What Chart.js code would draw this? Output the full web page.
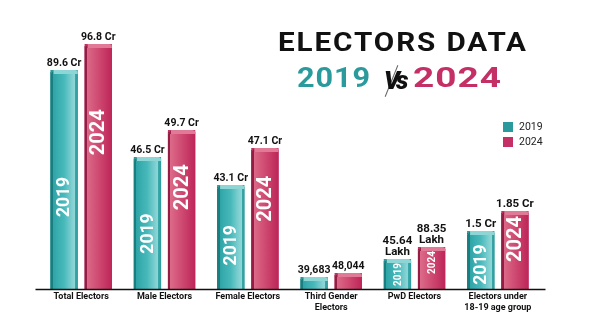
<!DOCTYPE html>
<html>
<head>
<meta charset="utf-8">
<script src="https://cdn.jsdelivr.net/npm/chart.js@4.4.1/dist/chart.umd.min.js"></script>
<style>
  html, body { margin: 0; padding: 0; background: #ffffff; }
  #wrap { position: relative; width: 600px; height: 326px; overflow: hidden; background: #fff; }
  #c { position: absolute; left: 0; top: 0; }
  .fit { position: absolute; white-space: nowrap; font-family: Roboto, sans-serif; transform-origin: 0 0; }
  .t1 { left: 278px; top: 30px; font-weight: 700; font-size: 25px; line-height: 25px; letter-spacing: 1.6px; color: #111; }
  .t2 { top: 63.5px; font-weight: 700; font-size: 28px; line-height: 28px; letter-spacing: 0.8px; }
  .vs { position: absolute; left: 384px; top: 68px; font-family: Roboto, sans-serif; font-weight: 900;
        font-style: italic; font-size: 25px; line-height: 25px; letter-spacing: -4px; color: #111; }
  .slash { position: absolute; left: 391px; top: 64px; width: 1.2px; height: 34px; background: #666;
           transform: rotate(22deg); transform-origin: 50% 50%; }
  #legend { position: absolute; left: 503px; top: 119px; font-family: Roboto, sans-serif; font-size: 10.5px; color: #222; }
  #legend .it { display: flex; align-items: center; height: 15px; }
  #legend .sw { width: 10px; height: 10px; margin-right: 6px; }
</style>
</head>
<body>
<div id="wrap">
  <canvas id="c" width="600" height="326"></canvas>
  <div class="fit t1" data-w="248">ELECTORS DATA</div>
  <div class="fit t2" data-w="73" style="left:297px;color:#2a9a9c;">2019</div>
  <div class="slash"></div>
  <div class="vs">Vs</div>
  <div class="fit t2" data-w="88" style="left:413px;color:#c42f66;">2024</div>
  <div id="legend"></div>
</div>
<script>
// ---- data ----
const categories = [["Total Electors"], ["Male Electors"], ["Female Electors"], ["Third Gender", "Electors"], ["PwD Electors"], ["Electors under", "18-19 age group"]];
const seriesNames = ["2019", "2024"];
// value labels as printed on the infographic
const labels2019 = ["89.6 Cr", "46.5 Cr", "43.1 Cr", "39,683", ["45.64", "Lakh"], "1.5 Cr"];
const labels2024 = ["96.8 Cr", "49.7 Cr", "47.1 Cr", "48,044", ["88.35", "Lakh"], "1.85 Cr"];
// drawn bar heights (the infographic is not to scale)
const heights2019 = [219, 132, 104, 12, 30, 58];
const heights2024 = [245, 159, 141, 16, 42, 78];
const yMax = 250;

const colors = ["#2a9a9c", "#c42f66"];

// stretch title text horizontally to the target widths
document.querySelectorAll(".fit").forEach(el => {
  const target = parseFloat(el.dataset.w);
  const ls = parseFloat(getComputedStyle(el).letterSpacing) || 0;
  const nat = el.getBoundingClientRect().width - ls;
  el.style.transform = "scaleX(" + (target / nat).toFixed(3) + ")";
});

const barStyle = {
  0: { stops: [[0, "#1a7e80"], [0.09, "#1a7e80"], [0.09, "#2ea4a6"], [0.5, "#48b9bb"], [0.82, "#86d2d3"], [0.9, "#8fd6d6"], [0.9, "#3aa7a9"], [1, "#2e9c9e"]],
       cap: "#8ed6d6", capDark: "#1a7e80", inner: 17.5 },
  1: { stops: [[0, "#931d45"], [0.09, "#931d45"], [0.09, "#db6a88"], [0.35, "#d4567a"], [1, "#bd2558"]],
       cap: "#e07a96", capDark: "#931d45", inner: 20 }
};

const decoPlugin = {
  id: "deco",
  afterDatasetsDraw(chart) {
    const ctx = chart.ctx;
    const ca = chart.chartArea;
    chart.data.datasets.forEach((ds, di) => {
      const meta = chart.getDatasetMeta(di);
      const st = barStyle[di];
      meta.data.forEach((bar, i) => {
        const w = bar.width, l = bar.x - w / 2, r = bar.x + w / 2, top = bar.y, base = bar.base;
        const h = base - top;
        const g = ctx.createLinearGradient(l, 0, r, 0);
        st.stops.forEach(s => g.addColorStop(s[0], s[1]));
        ctx.save();
        ctx.fillStyle = g;
        ctx.fillRect(l, top + 2, w, h - 2);
        ctx.fillStyle = st.cap;
        ctx.beginPath();
        ctx.moveTo(l, top + 4);
        ctx.lineTo(l + 3, top);
        ctx.lineTo(r - 3, top);
        ctx.quadraticCurveTo(r, top, r, top + 3);
        ctx.lineTo(r, top + 4);
        ctx.closePath();
        ctx.fill();
        ctx.fillStyle = st.capDark;
        ctx.beginPath();
        ctx.moveTo(l, top + 4);
        ctx.lineTo(l + 3, top);
        ctx.lineTo(l + 3, top + 4);
        ctx.closePath();
        ctx.fill();
        ctx.restore();

        let fs = 0;
        if (h >= 50) fs = st.inner; else if (h >= 25) fs = 10;
        if (fs) {
          ctx.save();
          ctx.font = "bold " + fs + "px Roboto, sans-serif";
          const len = ctx.measureText(ds.label).width;
          let cy = top + h * (di === 0 ? 0.58 : 0.36);
          cy = Math.max(cy, top + len / 2 + 4);
          cy = Math.min(cy, base - len / 2 - 3);
          ctx.translate(bar.x + 1, cy);
          ctx.rotate(-Math.PI / 2);
          ctx.fillStyle = "#ffffff";
          ctx.textAlign = "center";
          ctx.textBaseline = "middle";
          ctx.fillText(ds.label, 0, 0);
          ctx.restore();
        }

        const lab = ds.valueLabels[i];
        const lines = Array.isArray(lab) ? lab : [lab];
        ctx.save();
        const big = lines.length > 1 || i === 5;
        ctx.font = "bold " + (big ? 11.5 : 10.5) + "px 'Liberation Sans Narrow', Roboto, sans-serif";
        ctx.fillStyle = "#111";
        ctx.textAlign = "center";
        ctx.textBaseline = "alphabetic";
        const lh = 11.5;
        for (let k = 0; k < lines.length; k++) {
          const yy = top - 4 - (lines.length - 1 - k) * lh;
          ctx.fillText(lines[k], bar.x, yy);
        }
        ctx.restore();
      });
    });
    ctx.save();
    ctx.strokeStyle = "#111";
    ctx.lineWidth = 1.3;
    ctx.beginPath();
    ctx.moveTo(ca.left - 4, ca.bottom + 0.5);
    ctx.lineTo(ca.right + 6, ca.bottom + 0.5);
    ctx.stroke();
    const xs = chart.scales.x;
    ctx.font = "bold 9px Roboto, sans-serif";
    ctx.fillStyle = "#111";
    ctx.textAlign = "center";
    ctx.textBaseline = "middle";
    chart.data.labels.forEach((lab, i) => {
      const x = xs.getPixelForValue(i);
      lab.forEach((line, k) => ctx.fillText(line, x, ca.bottom + 8 + k * 11));
    });
    ctx.restore();
  }
};

const chart = new Chart(document.getElementById("c"), {
  type: "bar",
  data: {
    labels: categories,
    datasets: [
      { label: seriesNames[0], data: heights2019, valueLabels: labels2019, backgroundColor: colors[0], borderWidth: 0,
        categoryPercentage: 0.82, barPercentage: 0.8 },
      { label: seriesNames[1], data: heights2024, valueLabels: labels2024, backgroundColor: colors[1], borderWidth: 0,
        categoryPercentage: 0.82, barPercentage: 0.8 }
    ]
  },
  options: {
    responsive: false,
    animation: false,
    devicePixelRatio: 1,
    layout: { padding: { left: 39.5, right: 60.5, top: 39, bottom: 37 } },
    scales: {
      x: { display: false },
      y: { display: false, min: 0, max: yMax }
    },
    plugins: { legend: { display: false }, tooltip: { enabled: false } }
  },
  plugins: [decoPlugin]
});

const legend = document.getElementById("legend");
chart.data.datasets.forEach(ds => {
  const it = document.createElement("div");
  it.className = "it";
  it.innerHTML = '<span class="sw" style="background:' + ds.backgroundColor + '"></span><span>' + ds.label + '</span>';
  legend.appendChild(it);
});
</script>
</body>
</html>
